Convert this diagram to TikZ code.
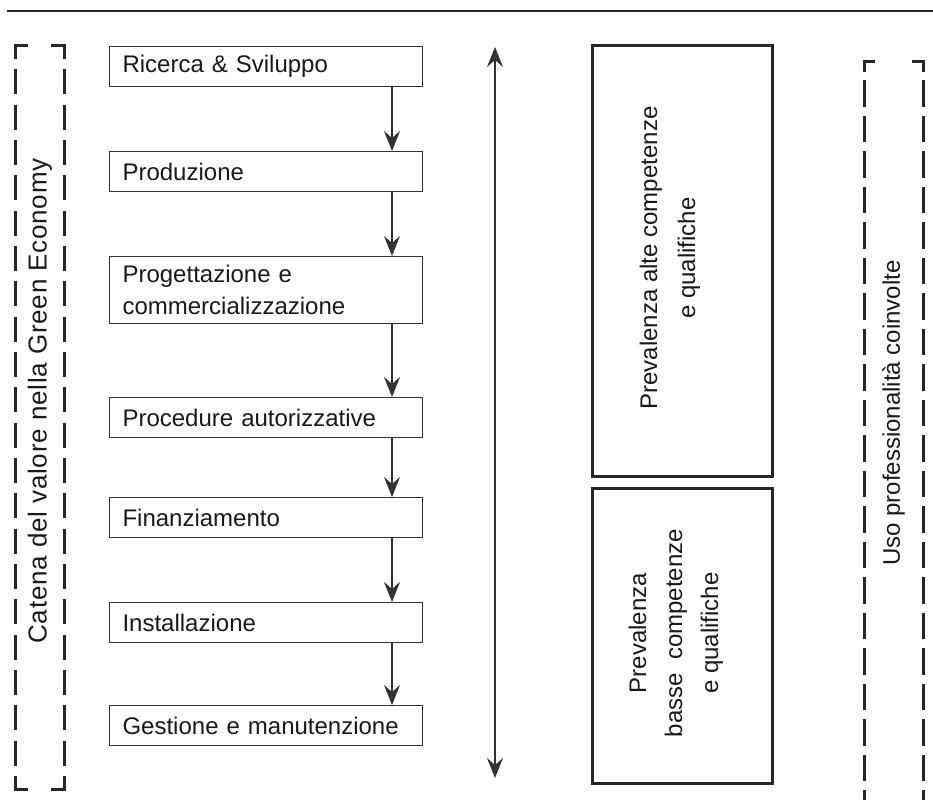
\documentclass[tikz,border=0pt]{standalone}
\usepackage{fontspec}
\setmainfont{Liberation Sans}
\newfontfamily\widefont[LetterSpace=3]{Liberation Sans}
\usetikzlibrary{arrows.meta}
\begin{document}
\begin{tikzpicture}[x=1pt,y=-1pt,
 every node/.style={font=\fontsize{24}{32}\selectfont, text=black!90},
 lbox/.style={draw=black!80, line width=1.1pt, anchor=north west, text width=287pt, inner xsep=13pt, inner ysep=0pt, minimum height=40pt, align=left},
 rbox/.style={draw=black!85, line width=3pt, inner sep=0pt},
 vtext/.style={rotate=90, align=center, inner sep=0pt},
 flow/.style={draw=black!80, line width=1.1pt, -{Stealth[length=20pt,width=16pt,inset=7pt]}},
 dbl/.style={draw=black!80, line width=1.1pt, {Stealth[length=20pt,width=16pt,inset=7pt]}-{Stealth[length=20pt,width=16pt,inset=7pt]}},
 dashline/.style={line width=3pt, draw=black!85},
]
\useasboundingbox (0,0) rectangle (933,800);
% top rule
\coordinate (tl) at (7,11);
\coordinate (tr) at (933,11);
\draw[line width=2.5pt, black!85] (tl) -- (tr);

% left flow boxes
\node[lbox] (b1) at (109,46) {Ricerca \& Sviluppo};
\node[lbox] (b2) at (109,151) {Produzione};
\node[lbox, minimum height=67pt] (b3) at (109,256) {Progettazione e\\commercializzazione};
\node[lbox] (b4) at (109,397) {Procedure autorizzative};
\node[lbox] (b5) at (109,497) {Finanziamento};
\node[lbox] (b6) at (109,602) {Installazione};
\node[lbox] (b7) at (109,705) {Gestione e manutenzione};

\coordinate (ax) at (392,0);
\foreach \a/\b in {b1/b2,b2/b3,b3/b4,b4/b5,b5/b6,b6/b7}
  \draw[flow] (\a.south -| ax) -- (\b.north -| ax);

% double arrow
\coordinate (dt) at (495,47);
\coordinate (db) at (495,778);
\draw[dbl] (dt) -- (db);

% right boxes
\node[rbox, minimum width=180pt, minimum height=430pt] (r1) at (682,261) {};
\node[vtext, font=\fontsize{24}{38}\selectfont] (r1t) at (670,258) {Prevalenza alte competenze\\e qualifiche};
\node[rbox, minimum width=180pt, minimum height=295pt] (r2) at (682,635.5) {};
\node[vtext, font=\fontsize{24}{36}\selectfont] (r2t) at (676,633) {Prevalenza\\basse\ \ competenze\\e qualifiche};

% left dashed bracket box
\draw[dashline] (28,46) -- (15,46) -- (15,59);
\draw[dashline] (51,46) -- (64,46) -- (64,59);
\draw[dashline] (28,789) -- (15,789) -- (15,776);
\draw[dashline] (51,789) -- (64,789) -- (64,776);
\draw[dashline, dash pattern=on 25pt off 10.33pt] (15,69.33) -- (15,765.67);
\draw[dashline, dash pattern=on 25pt off 10.33pt] (64,69.33) -- (64,765.67);
\node[vtext, font=\widefont\fontsize{26}{32}\selectfont] (cat) at (40,401) {Catena del valore nella Green Economy};

% right dashed bracket box
\draw[dashline] (875,61) -- (864,61) -- (864,72);
\draw[dashline] (912,61) -- (923,61) -- (923,72);
\draw[dashline, dash pattern=on 26.5pt off 9pt] (864,80) -- (864,800);
\draw[dashline, dash pattern=on 26.5pt off 9pt] (923,80) -- (923,800);
\node[vtext] (uso) at (893.5,413) {Uso professionalità coinvolte};
\end{tikzpicture}
\end{document}
